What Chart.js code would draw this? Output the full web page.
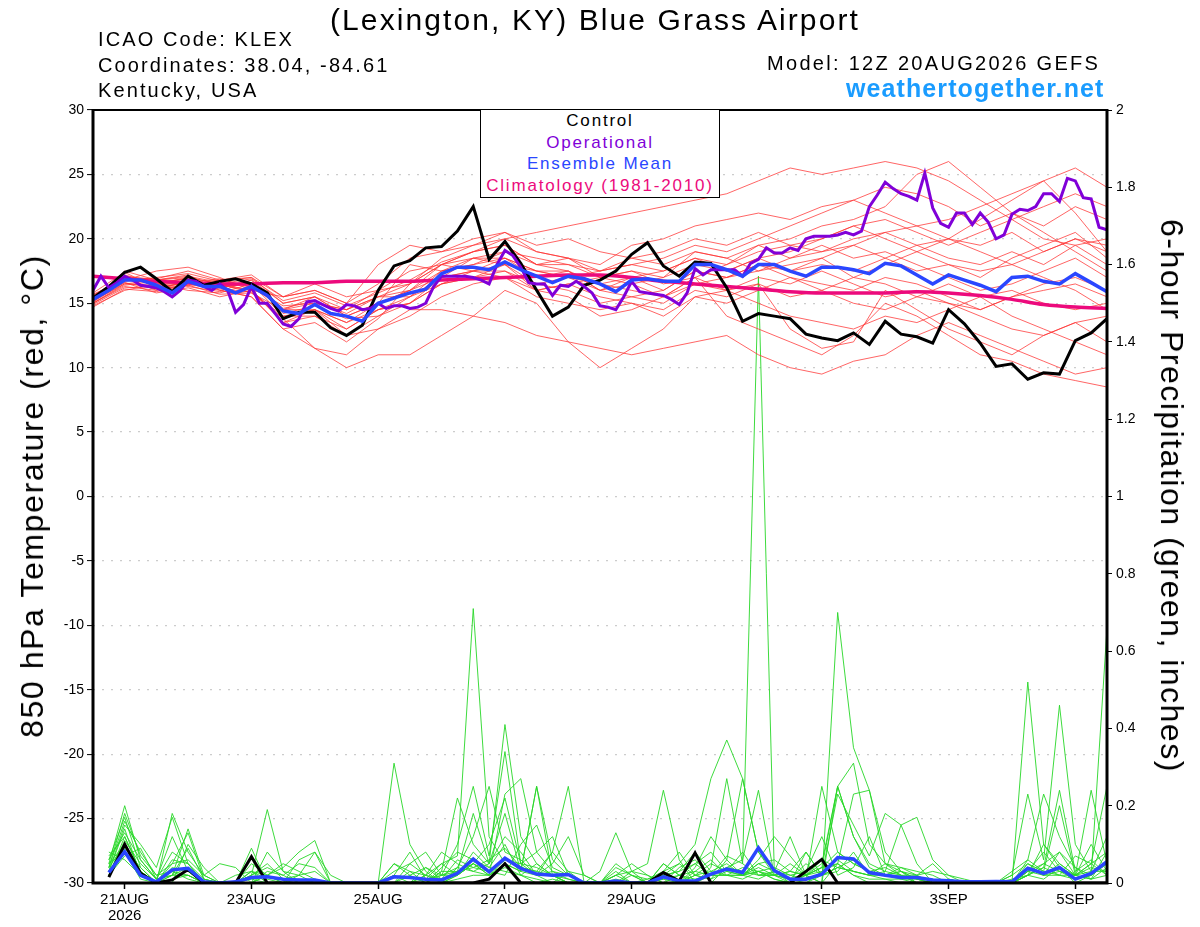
<!DOCTYPE html>
<html lang="en">
<head>
    <meta charset="UTF-8">
    <title>(Lexington, KY) Blue Grass Airport - GEFS plume</title>

    <!-- Chart.js -->
    <script src="https://cdn.jsdelivr.net/npm/chart.js"></script>

    <style>
        body {
            margin: 0;
            background: #fff;
            font-family: "Liberation Sans", Arial, Helvetica, sans-serif;
        }
        .wrap {
            position: relative;
            width: 1200px;
            height: 927px;
        }
        canvas {
            position: absolute;
            left: 0;
            top: 0;
        }
        .txt {
            position: absolute;
            line-height: 1;
            white-space: nowrap;
            color: #000;
        }
        #title { left: 330px; top: 5px; font-size: 30px; letter-spacing: 2.1px; }
        .info { left: 98px; font-size: 20px; letter-spacing: 2.1px; }
        #icao { top: 29px; }
        #coords { top: 55px; }
        #state { top: 80px; }
        #model { left: 767px; top: 53px; font-size: 20px; letter-spacing: 2.3px; }
        #site { left: 846px; top: 76px; font-size: 25px; font-weight: bold; letter-spacing: 1.1px; color: #1a9cff; }
        .axis-title {
            position: absolute;
            line-height: 1;
            white-space: nowrap;
            font-size: 32px;
            color: #000;
        }
        #ytitle { left: 32px; top: 496px; letter-spacing: 1.6px; transform: translate(-50%, -50%) rotate(-90deg); }
        #y2title { left: 1172px; top: 496px; letter-spacing: 1.5px; transform: translate(-50%, -50%) rotate(90deg); }
        #legend {
            position: absolute;
            left: 480px;
            top: 109px;
            width: 238px;
            height: 87px;
            border: 1.5px solid #000;
            background: #fff;
            text-align: center;
            font-size: 17px;
            line-height: 21.5px;
            letter-spacing: 1.8px;
        }
    </style>
</head>
<body>
    <div class="wrap">
        <canvas id="plume" width="1200" height="927"></canvas>

        <div class="txt" id="title">(Lexington, KY) Blue Grass Airport</div>
        <div class="txt info" id="icao">ICAO Code: KLEX</div>
        <div class="txt info" id="coords">Coordinates: 38.04, -84.61</div>
        <div class="txt info" id="state">Kentucky, USA</div>
        <div class="txt" id="model">Model: 12Z 20AUG2026 GEFS</div>
        <div class="txt" id="site">weathertogether.net</div>

        <div class="axis-title" id="ytitle">850 hPa Temperature (red, &deg;C)</div>
        <div class="axis-title" id="y2title">6-hour Precipitation (green, inches)</div>

        <div id="legend">
            <div style="color:#000">Control</div>
            <div style="color:#8000d8">Operational</div>
            <div style="color:#2a46ff">Ensemble Mean</div>
            <div style="color:#ec0a7c">Climatology (1981-2010)</div>
        </div>
    </div>

    <script>
        // x axis is forecast hour from 12Z 20AUG2026 (0 .. 384)
        const tickHours = [12, 60, 108, 156, 204, 276, 324, 372];
        const tickLabels = [['21AUG', '2026'], '23AUG', '25AUG', '27AUG', '29AUG', '1SEP', '3SEP', '5SEP'];

        // 850 hPa temperature, deg C

        // control, every 6 h from hour 0
        const controlTemp = [
            15.4, 16.3, 17.4, 17.8, 16.9, 15.9, 17.1, 16.4, 16.7, 16.9, 16.5, 15.8, 13.8, 14.3, 14.3, 13.1,
            12.5, 13.3, 16.0, 17.9, 18.3, 19.3, 19.4, 20.6, 22.5, 18.4, 19.8, 18.1, 16.0, 14.0, 14.7, 16.4,
            16.8, 17.5, 18.8, 19.7, 17.9, 17.1, 18.2, 18.1, 16.2, 13.6, 14.2, 14.0, 13.8, 12.6, 12.3, 12.1,
            12.7, 11.8, 13.6, 12.6, 12.4, 11.9, 14.5, 13.4, 11.9, 10.1, 10.3, 9.1, 9.6, 9.5, 12.1, 12.7,
            13.8
        ];

        // operational, every 3 h from hour 0
        const operTemp = [
            16.0, 17.1, 16.2, 16.6, 17.1, 16.8, 16.4, 16.3, 16.2, 15.9, 15.5, 16.0, 16.8, 16.7, 16.3, 16.0,
            16.5, 16.0, 14.3, 14.9, 16.3, 15.0, 15.0, 14.2, 13.4, 13.2, 13.8, 15.1, 15.2, 14.9, 14.6, 14.4,
            14.9, 14.8, 14.5, 14.6, 15.0, 14.6, 14.8, 14.8, 14.6, 14.7, 15.0,
            16.3, 17.1, 17.1, 17.1, 17.1, 17.0, 16.8, 16.5, 18.0, 19.1, 18.7, 17.8, 16.6, 16.5, 16.5, 15.6,
            16.4, 16.3, 16.7, 16.3, 15.8, 14.8, 14.7, 14.5, 15.5, 16.7, 15.9, 15.8, 15.7, 15.6, 15.3, 14.9,
            15.8, 17.7, 17.2, 17.6, 17.6, 17.6, 17.6, 17.1, 18.1, 18.4, 19.3,
            18.9, 18.9, 19.3, 19.1, 20.0, 20.2, 20.2, 20.2, 20.3, 20.5, 20.3, 20.6, 22.5, 23.4, 24.4, 23.9,
            23.5, 23.3, 23.0, 25.1, 22.4, 21.2, 20.9, 22.0, 22.0, 21.1, 22.0, 21.3, 20.0, 20.3, 21.9, 22.3,
            22.2, 22.5, 23.5, 23.5, 22.9, 24.7, 24.5, 23.2, 23.1, 20.9, 20.7
        ];

        // ensemble mean, every 6 h from hour 0
        const meanTemp = [
            15.3, 16.0, 16.8, 16.8, 16.4, 15.8, 16.7, 16.3, 16.3, 15.8, 16.3, 15.6, 14.4, 14.2, 14.9, 14.2,
            14.0, 13.6, 15.0, 15.4, 15.8, 16.1, 17.3, 17.8, 17.8, 17.6, 18.2, 17.6, 17.1, 16.6, 17.1, 16.9,
            16.5, 15.9, 16.8, 16.9, 16.7, 16.7, 18.0, 18.0, 17.6, 17.1, 18.0, 18.0, 17.5, 17.1, 17.8, 17.8,
            17.6, 17.3, 18.1, 17.9, 17.2, 16.5, 17.2, 16.8, 16.4, 15.9, 17.0, 17.1, 16.7, 16.5, 17.3, 16.6,
            15.9
        ];

        // climatology 1981-2010, every 12 h
        const climTemp = [
            17.1, 16.9, 16.7, 16.6, 16.5, 16.5, 16.6, 16.6, 16.7, 16.7, 16.7, 16.8, 16.9, 17.0, 17.1, 17.2,
            17.2, 17.0, 16.7, 16.5, 16.3, 16.1, 15.9, 15.8, 15.8, 15.8, 15.9, 15.8, 15.6, 15.3, 14.9, 14.7,
            14.6
        ];

        // ensemble members, every 12 h from hour 0
        const member01 = [15.0, 16.5, 16.8, 17.2, 16.0, 15.5, 13.0, 13.5, 12.0, 13.8, 16.5, 18.5, 19.5, 20.0, 19.0, 18.5, 18.0, 19.5, 20.0, 21.0, 21.5, 22.0, 21.5, 22.5, 23.0, 24.0, 23.5, 22.5, 21.0, 22.0, 21.0, 22.5, 21.5];
        const member02 = [15.5, 17.0, 16.0, 16.5, 16.8, 17.0, 15.0, 15.5, 14.5, 16.0, 17.5, 18.0, 19.0, 19.5, 18.0, 17.5, 16.0, 16.5, 17.0, 19.0, 18.5, 19.5, 20.0, 21.0, 21.5, 22.5, 25.0, 26.0, 24.0, 22.0, 20.5, 19.0, 17.5];
        const member03 = [14.8, 16.0, 16.5, 16.0, 15.8, 16.5, 14.0, 14.0, 12.5, 13.0, 14.0, 15.5, 16.5, 17.0, 15.5, 15.0, 14.5, 15.0, 14.0, 15.5, 16.0, 16.5, 13.0, 11.5, 12.0, 16.0, 14.5, 13.0, 12.0, 11.0, 12.5, 13.5, 14.0];
        const member04 = [15.2, 17.5, 16.8, 17.0, 16.5, 16.0, 15.5, 16.0, 15.0, 16.5, 18.5, 19.0, 20.0, 20.5, 19.5, 20.0, 19.0, 18.5, 18.0, 19.0, 18.5, 17.5, 18.0, 18.5, 17.0, 18.0, 19.0, 20.0, 21.5, 23.0, 24.5, 22.0, 19.0];
        const member05 = [15.7, 16.8, 17.5, 17.8, 17.0, 16.0, 13.5, 14.0, 13.0, 14.5, 15.0, 16.5, 17.0, 18.0, 16.0, 15.5, 14.0, 14.5, 15.5, 17.0, 14.0, 13.0, 12.0, 11.0, 12.5, 15.0, 14.0, 12.5, 11.0, 10.5, 9.5, 9.0, 8.5];
        const member06 = [15.0, 16.3, 16.0, 16.8, 16.2, 16.8, 15.0, 15.5, 14.0, 15.0, 16.0, 17.0, 18.5, 18.0, 17.5, 17.0, 17.5, 18.0, 17.5, 18.5, 18.0, 19.0, 19.5, 19.0, 20.0, 20.5, 19.5, 20.0, 19.5, 20.5, 19.0, 20.0, 19.5];
        const member07 = [15.4, 17.2, 16.5, 17.0, 16.5, 15.8, 14.5, 15.0, 14.5, 15.5, 16.5, 18.0, 18.5, 19.0, 18.0, 18.5, 17.0, 17.5, 16.5, 17.0, 16.0, 15.0, 14.0, 13.5, 13.0, 14.0, 13.5, 14.5, 15.5, 16.0, 15.0, 14.5, 15.0];
        const member08 = [15.1, 16.6, 15.8, 16.2, 15.5, 16.0, 13.8, 14.5, 13.5, 14.5, 15.0, 17.0, 17.5, 18.0, 16.5, 16.0, 15.0, 15.5, 16.0, 17.5, 17.0, 18.0, 17.5, 18.5, 19.5, 20.5, 21.0, 21.5, 22.5, 23.5, 24.5, 25.5, 24.0];
        const member09 = [15.6, 17.0, 16.9, 17.5, 16.8, 17.2, 15.5, 16.5, 15.5, 16.0, 16.5, 18.0, 19.0, 20.0, 20.5, 21.0, 21.5, 22.0, 22.5, 23.0, 23.5, 24.5, 25.5, 25.0, 25.5, 26.0, 25.5, 24.5, 23.0, 21.5, 20.0, 19.5, 20.0];
        const member10 = [14.9, 16.2, 16.3, 16.5, 16.0, 15.5, 13.0, 11.5, 10.0, 11.0, 11.0, 12.5, 14.0, 16.0, 15.0, 12.0, 10.0, 11.5, 13.0, 15.5, 15.0, 16.0, 17.0, 16.0, 15.0, 14.5, 15.5, 16.5, 15.5, 14.0, 13.0, 12.0, 11.0];
        const member11 = [15.3, 16.9, 16.6, 16.9, 16.3, 16.5, 14.5, 15.5, 14.0, 15.0, 16.0, 18.0, 17.5, 18.5, 17.0, 17.5, 16.5, 16.0, 15.5, 17.0, 18.0, 19.5, 18.5, 19.0, 19.5, 18.5, 17.5, 18.0, 17.0, 18.5, 19.5, 20.5, 18.5];
        const member12 = [15.8, 17.4, 16.2, 16.6, 16.9, 16.2, 14.8, 15.0, 14.5, 15.5, 15.5, 17.5, 18.0, 18.5, 17.5, 17.0, 16.5, 17.0, 16.0, 17.5, 17.0, 17.5, 18.5, 19.5, 18.5, 19.0, 18.0, 17.0, 16.0, 16.5, 17.5, 18.5, 17.0];
        const member13 = [15.0, 16.4, 16.7, 16.3, 15.9, 16.8, 14.2, 14.8, 13.8, 14.0, 15.0, 16.5, 17.0, 17.5, 16.0, 16.5, 17.0, 16.5, 15.5, 16.5, 16.0, 17.0, 16.5, 17.5, 16.5, 15.5, 16.0, 15.0, 14.5, 15.5, 16.5, 17.0, 16.0];
        const member14 = [15.5, 16.7, 17.0, 17.3, 16.7, 17.0, 15.5, 16.0, 15.0, 18.0, 19.5, 19.0, 19.5, 20.5, 19.0, 18.5, 17.5, 18.0, 18.5, 19.5, 19.0, 20.0, 21.0, 22.0, 23.0, 22.0, 21.0, 20.0, 19.0, 18.0, 17.0, 16.0, 14.5];
        const member15 = [15.2, 16.5, 16.4, 16.6, 16.4, 16.0, 13.5, 14.5, 12.5, 14.0, 15.5, 17.0, 17.5, 17.0, 16.0, 16.5, 15.5, 15.0, 14.5, 16.0, 15.5, 16.5, 15.5, 16.0, 17.0, 16.5, 15.5, 15.0, 14.0, 13.0, 12.5, 13.5, 12.0];
        const member16 = [15.6, 17.1, 16.8, 17.1, 16.6, 16.4, 14.5, 14.5, 13.5, 15.0, 18.0, 17.5, 18.0, 19.0, 18.5, 18.0, 17.5, 18.5, 19.0, 20.0, 19.5, 20.5, 19.5, 20.0, 21.0, 21.5, 20.5, 19.5, 20.5, 21.5, 22.5, 23.5, 22.5];
        const member17 = [14.7, 16.1, 15.9, 16.4, 15.7, 15.8, 13.8, 11.5, 11.0, 13.0, 14.5, 14.5, 14.0, 13.5, 12.5, 12.0, 11.5, 11.0, 11.5, 12.0, 12.5, 11.0, 10.0, 9.5, 10.5, 11.0, 12.5, 13.5, 12.5, 11.5, 10.5, 9.5, 10.0];
        const member18 = [15.3, 16.8, 16.6, 16.9, 16.2, 16.6, 14.6, 15.2, 14.2, 15.5, 16.0, 17.5, 18.5, 18.5, 17.5, 17.5, 16.0, 17.0, 17.5, 18.5, 17.5, 18.5, 17.5, 18.0, 17.5, 18.5, 19.5, 18.5, 18.0, 19.0, 18.0, 19.5, 18.0];
        const member19 = [15.4, 16.6, 16.1, 16.4, 16.5, 16.9, 15.2, 15.8, 14.8, 15.8, 16.8, 18.2, 19.0, 19.5, 18.0, 18.0, 17.0, 17.5, 17.0, 18.0, 17.5, 18.5, 19.0, 20.0, 21.0, 20.0, 19.0, 18.0, 17.5, 18.0, 19.0, 20.0, 19.0];
        const member20 = [15.1, 16.9, 16.5, 16.7, 16.1, 15.9, 14.0, 14.5, 13.0, 14.5, 15.5, 16.5, 17.5, 17.5, 16.5, 17.0, 16.0, 15.5, 15.0, 16.5, 17.0, 18.0, 17.0, 16.5, 16.0, 17.0, 16.5, 15.5, 14.5, 15.5, 16.0, 16.5, 15.5];

        // 6-hour precipitation, inches, every 6 h from hour 6

        const controlPrecip = [
            .015, .10, .025, 0, .008, .035, 0, 0,   0, .068, 0, 0, 0, 0, 0, 0,
            0, 0, 0, 0, 0, 0, 0, 0,                 .01, .05, 0, 0, 0, 0, 0, 0,
            0, 0, 0, .027, .005, .078, 0, 0,        0, 0, 0, 0, .03, .061, 0, 0,
            0, 0, 0, 0, 0, 0, 0, 0,                 0, 0, 0, 0, 0, 0, 0, 0
        ];
        const meanPrecip = [
            .027, .081, .02, .003, .034, .038, .003, 0,    .003, .014, .016, .01, .008, .008, 0, 0,
            0, 0, .016, .014, .01, .008, .025, .062,       .029, .064, .038, .023, .02, .022, 0, 0,
            .005, 0, 0, .016, .005, .005, .023, .036,      .027, .091, .032, .01, .01, .023, .066, .062,
            .027, .02, .014, .014, .008, .006, .003, .003, .004, .003, .038, .025, .04, .01, .025, .055
        ];

        const precip01 = [.05, .20, .06, .01, .02, .14, .02, 0, 0, .02, .19, .03, 0, 0, 0, 0, 0, 0, .31, .10, .03, 0, .02, .08, .04, .10, .02, 0, .01, 0, 0, 0, 0, 0, 0, .05, .02, 0, 0, .04, .06, .24, .02, 0, 0, 0, .05, .02, 0, 0, 0, 0, 0, .01, 0, 0, 0, 0, .52, .10, .04, 0, .02, .05];
        const precip02 = [.03, .15, .10, .04, .17, .05, 0, 0, 0, 0, .02, 0, .06, .08, 0, 0, 0, 0, 0, 0, .02, .05, .07, .71, .12, .05, .03, .25, .02, 0, 0, 0, .02, 0, 0, .03, 0, 0, .04, .27, .05, 1.57, .03, 0, .02, 0, .25, .12, .05, .03, .02, 0, 0, 0, 0, 0, 0, 0, .05, .03, .20, .02, .01, .08];
        const precip03 = [.02, .12, .03, 0, .05, .13, .01, 0, 0, .09, 0, 0, .02, .03, 0, 0, 0, 0, .05, .02, 0, .03, .22, .10, .05, .41, .12, .05, .02, 0, 0, .03, .13, .03, 0, .01, 0, .02, .01, .06, .27, .08, .03, .12, .02, 0, .70, .35, .24, .08, .03, 0, 0, .01, 0, 0, 0, .02, .23, .06, .46, .10, .03, .12];
        const precip04 = [.04, .10, .02, 0, .18, .08, .02, 0, 0, .05, .02, .04, .08, .11, 0, 0, 0, 0, .03, .05, .08, .02, .10, .25, .07, .34, .05, .02, .05, .12, .02, 0, .02, .03, .05, .24, .06, 0, .02, .04, .02, .01, .03, .01, .02, .05, .25, .31, .10, .05, .03, .02, .05, .01, 0, 0, 0, .01, .02, .04, .24, .03, .06, .02];
        const precip05 = [.06, .17, .04, 0, .02, .02, 0, 0, 0, .02, .05, .01, .02, .08, .02, 0, 0, 0, 0, 0, .04, .02, .03, .05, .02, .23, .27, .08, .12, .02, 0, 0, 0, .02, 0, .02, .05, .10, .27, .37, .27, .08, .02, .01, .05, .02, .23, .15, .07, .18, .15, .05, 0, 0, 0, 0, 0, 0, .04, .02, .08, .02, .24, .05];
        const precip06 = [.05, .08, .01, 0, .04, .03, 0, 0, .02, .03, 0, 0, 0, 0, 0, 0, 0, 0, .02, 0, .02, .08, .05, .03, .05, .18, .03, .25, .06, .02, 0, 0, .04, .02, 0, .05, .02, .03, .02, .02, .02, .06, .12, .07, .02, .04, .05, .23, .24, .05, .04, .02, .03, .02, .01, 0, 0, .03, .06, .23, .12, .04, .02, .66];
        const precip07 = [.08, .06, .02, 0, 0, .10, .04, 0, 0, 0, .03, .02, .05, .04, 0, 0, 0, 0, 0, .05, .02, 0, .04, .12, .25, .08, .06, .02, 0, .03, .02, 0, 0, 0, 0, .02, 0, .04, .12, .06, .02, .03, .01, 0, .08, .02, .03, .08, .02, .03, .15, .17, .06, .02, 0, 0, 0, 0, .04, .02, .02, .07, .05, .25];
        const precip08 = [.02, .11, .05, .01, .12, .03, 0, 0, 0, .03, .01, 0, 0, 0, 0, 0, 0, 0, .02, .08, .01, .05, .02, .05, .03, .06, .04, .03, .08, .25, 0, 0, .05, .02, .01, .03, .05, .02, .01, .03, .08, .02, .03, .02, .01, .25, .08, .05, .03, .02, .01, .01, .01, 0, 0, 0, 0, 0, .02, .10, .05, .02, .10, .03];
        const precip09 = [.04, .16, .08, .02, .05, .06, .02, .05, .04, 0, 0, 0, 0, 0, 0, 0, 0, 0, 0, 0, 0, 0, .02, .05, .10, .22, .05, .04, .02, 0, 0, 0, 0, 0, 0, .02, .03, .05, .08, .03, .02, .05, .03, .01, 0, .02, .04, .03, .02, .02, .04, .03, .02, 0, 0, 0, 0, 0, .06, .03, .02, .02, .05, .08];
        const precip10 = [.03, .14, .02, 0, .03, .02, 0, 0, 0, .02, .04, .02, 0, 0, 0, 0, 0, 0, 0, 0, 0, .03, .03, .18, .05, .12, .08, .02, .03, .02, 0, 0, .02, .05, .02, 0, .04, .06, .02, .07, .05, .02, .02, .03, .02, .04, .25, .12, .04, .02, .03, .01, 0, 0, 0, 0, 0, 0, .03, .05, .08, .04, .01, .04];
        const precip11 = [.06, .13, .06, .01, .08, .05, 0, 0, 0, 0, .08, .03, .02, 0, 0, 0, 0, 0, 0, .02, .04, .01, .06, .04, .03, .02, .10, .15, .04, .02, 0, 0, 0, 0, 0, .02, 0, .03, .06, .02, .01, .03, .04, .02, .03, .12, .02, .04, .12, .02, .03, .01, 0, 0, 0, 0, 0, 0, .02, .01, .04, .02, .05, .02];
        const precip12 = [.03, .09, .04, 0, .02, .04, 0, 0, 0, .03, .02, 0, 0, 0, 0, 0, 0, 0, 0, 0, 0, .02, .02, .05, .02, .05, .03, .02, .08, .03, 0, 0, .03, 0, 0, 0, .02, .05, .02, .02, .04, .03, .02, .01, .02, .04, .08, .05, .03, .02, .02, .02, 0, 0, 0, 0, 0, 0, .03, .08, .03, .02, .03, .03];
        const precip13 = [.07, .12, .03, 0, .01, .02, 0, 0, 0, 0, 0, 0, 0, 0, 0, 0, 0, 0, 0, 0, .01, .02, .04, .03, .02, .04, .02, .01, 0, 0, 0, 0, 0, .03, .02, 0, 0, .02, .03, .05, .02, .03, .01, 0, 0, .03, .05, .02, .01, .01, 0, 0, 0, 0, 0, 0, 0, 0, .02, .04, .02, .01, .02, .06];
        const precip14 = [.04, .18, .07, .02, .03, .01, 0, 0, 0, 0, .02, .05, .03, .01, 0, 0, 0, 0, 0, 0, 0, .04, .08, .06, .04, .03, .02, .05, .02, 0, 0, 0, 0, 0, 0, .03, .08, .02, .05, .03, .02, .04, .02, .03, .08, .02, .04, .06, .03, .04, .02, 0, 0, 0, 0, 0, 0, .02, .05, .02, .03, .01, .02, .05];
        const precip15 = [.02, .07, .09, .01, .02, .09, .01, 0, 0, 0, 0, 0, 0, 0, 0, 0, 0, 0, .05, .03, 0, 0, .01, .02, .02, .06, .05, .08, .03, .01, 0, 0, .01, 0, 0, .01, .02, .01, .02, .04, .03, .02, .02, .05, .02, .03, .06, .03, .02, .01, .01, 0, 0, 0, 0, 0, 0, 0, .03, .02, .05, .02, .01, .02];
        const precip16 = [.05, .10, .03, 0, .06, .05, .01, 0, 0, .01, 0, 0, .01, 0, 0, 0, 0, 0, 0, .03, .02, .01, .03, .04, .06, .09, .04, .03, .02, .01, 0, 0, 0, 0, .01, .02, .03, .08, .03, .02, .02, .05, .06, .03, .02, .06, .04, .03, .02, .05, .02, .01, 0, 0, 0, 0, 0, 0, .02, .05, .03, .02, .04, .03];

        const tempMembers = [member01, member02, member03, member04, member05, member06, member07, member08, member09, member10,
                             member11, member12, member13, member14, member15, member16, member17, member18, member19, member20];
        const precipMembers = [precip01, precip02, precip03, precip04, precip05, precip06, precip07, precip08,
                               precip09, precip10, precip11, precip12, precip13, precip14, precip15, precip16];

        // turn a list of values into {x: hour, y: value}
        function toPoints(values, startHour, stepHours) {
            return values.map((v, i) => ({ x: startHour + i * stepHours, y: v }));
        }

        function lineSet(values, start, step, color, width, axis, order) {
            return {
                data: toPoints(values, start, step),
                borderColor: color,
                borderWidth: width,
                yAxisID: axis,
                order: order,
                pointRadius: 0,
                fill: false
            };
        }

        const datasets = [];

        // smaller order is drawn on top
        datasets.push(lineSet(meanTemp, 0, 6, '#2a46ff', 3.5, 'y', 1));
        datasets.push(lineSet(operTemp, 0, 3, '#8000d8', 3, 'y', 2));
        datasets.push(lineSet(controlTemp, 0, 6, '#000000', 3, 'y', 3));
        const clim = lineSet(climTemp, 0, 12, '#ec0a7c', 3.5, 'y', 4);
        clim.cubicInterpolationMode = 'monotone';
        datasets.push(clim);
        datasets.push(lineSet(meanPrecip, 6, 6, '#2a46ff', 3.5, 'y2', 5));
        datasets.push(lineSet(controlPrecip, 6, 6, '#000000', 3, 'y2', 6));
        tempMembers.forEach(m => datasets.push(lineSet(m, 0, 12, 'rgba(255, 50, 50, 0.75)', 1, 'y', 7)));
        precipMembers.forEach(m => datasets.push(lineSet(m, 6, 6, 'rgba(40, 215, 40, 0.9)', 1, 'y2', 8)));

        // black frame round the plot area
        const framePlugin = {
            id: 'frame',
            afterDatasetsDraw(chart) {
                const { ctx, chartArea: a } = chart;
                ctx.save();
                ctx.strokeStyle = '#000';
                ctx.lineWidth = 2;
                ctx.beginPath();
                ctx.moveTo(a.left, a.top);
                ctx.lineTo(a.right, a.top);
                ctx.stroke();
                ctx.lineWidth = 3;
                ctx.beginPath();
                ctx.moveTo(a.left, a.top - 1);
                ctx.lineTo(a.left, a.bottom);
                ctx.lineTo(a.right, a.bottom);
                ctx.lineTo(a.right, a.top - 1);
                ctx.stroke();
                ctx.restore();
            }
        };

        const ctx = document.getElementById('plume').getContext('2d');
        new Chart(ctx, {
            type: 'line',
            data: { datasets: datasets },
            options: {
                responsive: false,
                animation: false,
                devicePixelRatio: 1,
                layout: { padding: { top: 110, left: 0, right: 0, bottom: 0 } },
                plugins: {
                    legend: { display: false },
                    tooltip: { enabled: false }
                },
                scales: {
                    x: {
                        type: 'linear',
                        min: 0,
                        max: 384,
                        afterBuildTicks: s => { s.ticks = tickHours.map(h => ({ value: h })); },
                        afterFit: s => { s.height = 44; },
                        ticks: {
                            autoSkip: false,
                            maxRotation: 0,
                            color: '#000',
                            padding: 3,
                            font: { size: 15, lineHeight: 1.07, family: '"Liberation Sans", Arial, sans-serif' },
                            callback: (v, i) => tickLabels[i]
                        },
                        grid: { drawOnChartArea: false, tickLength: 6, tickColor: '#000', tickWidth: 1.5 },
                        border: { display: false }
                    },
                    y: {
                        position: 'left',
                        min: -30,
                        max: 30,
                        afterFit: s => { s.width = 93; },
                        ticks: {
                            stepSize: 5,
                            color: '#000',
                            padding: 3,
                            font: { size: 14, family: '"Liberation Sans", Arial, sans-serif' }
                        },
                        grid: {
                            color: c => (c.tick && Math.abs(c.tick.value) === 30) ? 'rgba(0,0,0,0)' : '#cccccc',
                            lineWidth: 1.2,
                            tickColor: '#000',
                            tickLength: 6,
                            tickWidth: 1,
                            tickBorderDash: []
                        },
                        border: { display: false, dash: [2, 7] }
                    },
                    y2: {
                        position: 'right',
                        min: 0,
                        max: 2,
                        afterFit: s => { s.width = 93; },
                        ticks: {
                            stepSize: 0.2,
                            color: '#000',
                            padding: 4,
                            font: { size: 14, family: '"Liberation Sans", Arial, sans-serif' },
                            callback: v => String(Number(v.toFixed(1)))
                        },
                        grid: { drawOnChartArea: false, tickColor: '#000', tickLength: 5, tickWidth: 1 },
                        border: { display: false }
                    }
                }
            },
            plugins: [framePlugin]
        });
    </script>
</body>
</html>
